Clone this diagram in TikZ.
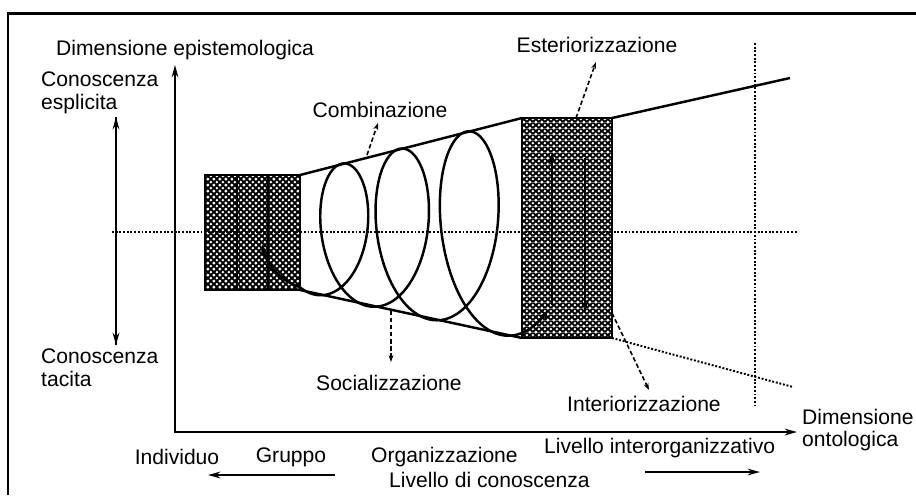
\documentclass[tikz,border=0pt]{standalone}
\usepackage{fontspec}
\setmainfont{Liberation Sans}
\usetikzlibrary{arrows.meta,patterns.meta}

\tikzdeclarepattern{
  name=netdots,
  type=colored,
  bottom left={(0pt,0pt)},
  top right={(3.6pt,3.6pt)},
  tile size={(3.6pt,3.6pt)},
  code={
    \fill[black] (0pt,0pt) rectangle (3.6pt,3.6pt);
    \fill[white] (1.8pt,1.8pt) circle (0.9pt);
    \fill[white] (0pt,0pt) circle (0.9pt);
    \fill[white] (3.6pt,0pt) circle (0.9pt);
    \fill[white] (0pt,3.6pt) circle (0.9pt);
    \fill[white] (3.6pt,3.6pt) circle (0.9pt);
  }
}

\begin{document}
\begin{tikzpicture}[x=0.02cm,y=-0.02cm,font=\fontsize{12}{13}\selectfont,
    axis/.style={line width=1.2pt,-{Stealth[length=7pt,width=3.8pt]}},
    hint/.style={line width=0.9pt,dash pattern=on 2.5pt off 1.5pt,-{Stealth[length=4pt,width=2.8pt]}},
    guide/.style={line width=1.1pt,densely dotted}]
            \useasboundingbox (0,0) rectangle (916,495);
            \draw[line width=1.7pt] (8,495) -- (8,13) -- (916,13);

            \coordinate (Ytip) at (175,65);
            \coordinate (Xtip) at (797,432);
            \coordinate (Etop) at (116,117);
            \coordinate (Ebot) at (116,345);

            \coordinate (LA) at (205,175);
            \coordinate (LT) at (300,175);
            \coordinate (LB) at (300,290);
            \coordinate (RT) at (522,118);
            \coordinate (RB) at (522,338);
            \coordinate (RTR) at (612,118);
            \coordinate (RBR) at (612,338);
            \coordinate (UE) at (790,78);
            \coordinate (LE) at (793,387);

            \draw[axis] (Ebot) -- (Etop);
            \draw[axis] (Etop) -- (Ebot);
            \draw[line width=1.2pt,{Stealth[length=7pt,width=3.8pt]}-{Stealth[length=7pt,width=3.8pt]}] (Ytip) |- (Xtip);

            \draw[line width=1.4pt] (LT) -- (RT);
            \draw[line width=1.4pt] (LB) -- (RB);
            \draw[line width=1.4pt] (RTR) -- (UE);
            \draw[guide] (RBR) -- (LE);
            \draw[guide] (755,43) -- (755,405);

            \draw[line width=1.3pt,pattern=netdots] (LA) rectangle (LB);
            \draw[line width=1.3pt,pattern=netdots] (RT) rectangle (RBR);
            \draw[line width=1.5pt] (237,175) -- (237,290);
            \draw[line width=1.5pt] (268,175) -- (268,290);

            \draw[line width=1.4pt,-{Stealth[length=6pt,width=3.8pt]}] plot[domain=-0.08:3.12,samples=400,variable=\u]
                ({319.4+49*\u+4.5*\u*\u+(34+4.75*\u)*sin(360*\u)},
                 {233-0.0205*(19.4+49*\u+4.5*\u*\u)+(58+0.2365*(19.4+49*\u+4.5*\u*\u))*cos(360*\u)});
            \coordinate (S0) at (299.4,286.9);
            \draw[line width=1.5pt,-{Stealth[length=6pt,width=3.8pt]}] (S0) .. controls (282,281) and (267,266) .. (262,244);

            \draw[line width=1.4pt,-{Stealth[length=7pt,width=3.8pt]}] (552,305) -- (552,152);
            \draw[line width=1.4pt,-{Stealth[length=7pt,width=3.8pt]}] (585,158) -- (585,313);

            \draw[guide] (112,232) -- (797,232);

            \node (epi) [anchor=west] at (50,50) {Dimensione epistemologica};
            \node (espl) [anchor=west,align=left] at (35,93) {Conoscenza\\esplicita};
            \node (tac) [anchor=west,align=left] at (35,368) {Conoscenza\\tacita};
            \node (comb) at (380,110) {Combinazione};
            \node (este) at (597,45) {Esteriorizzazione};
            \node (soc) [anchor=west] at (310,383) {Socializzazione};
            \node (inte) [anchor=west] at (561,404) {Interiorizzazione};
            \node (onto) [anchor=west,align=left] at (796,430) {Dimensione\\ontologica};
            \node (ind) at (177,457) {Individuo};
            \node (grp) at (291,457) {Gruppo};
            \node (org) [anchor=west] at (365,457) {Organizzazione};
            \node (inter) [anchor=west] at (538,448) {Livello interorganizzativo};
            \node (liv) [anchor=west] at (383,480) {Livello di conoscenza};

            \coordinate (Cs) at (367,155);
            \coordinate (Es) at (576,118);
            \coordinate (Ss) at (391,311);
            \coordinate (Is) at (612,313);
            \draw[hint] (Cs) -- (378,123);
            \draw[hint] (Es) -- (596,62);
            \draw[hint] (Ss) -- (391,362);
            \draw[hint] (Is) -- (649,390);

            \draw[axis] (335,475) -- (208,475);
            \draw[axis] (645,472) -- (760,472);
        \end{tikzpicture}
\end{document}
